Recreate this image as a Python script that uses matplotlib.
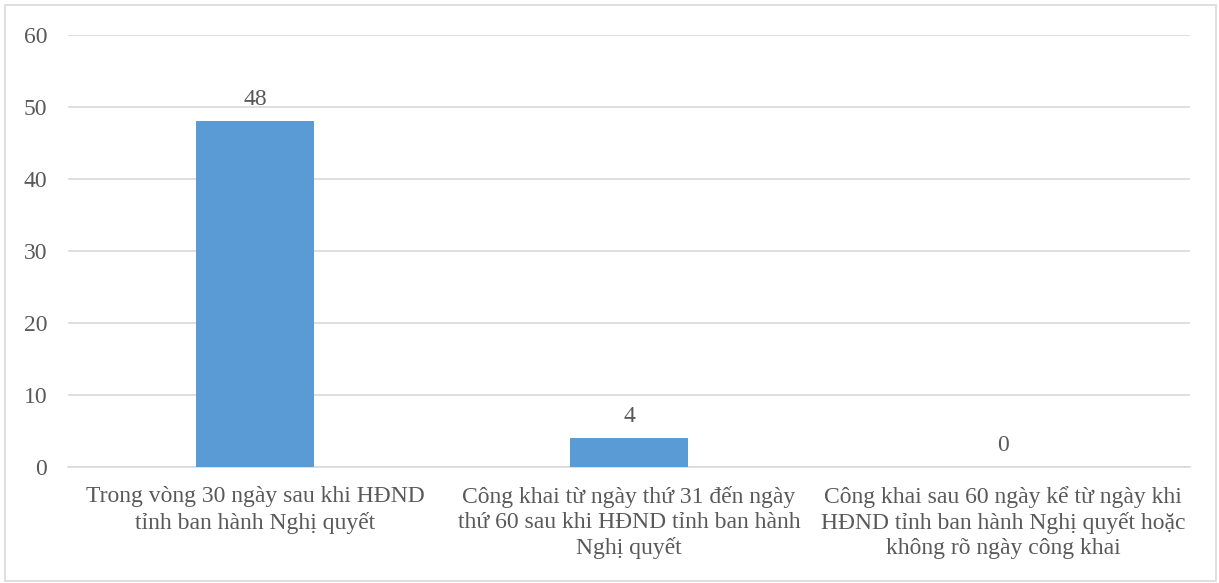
import matplotlib.pyplot as plt
from matplotlib.patches import Rectangle

# Chart data
categories = [
    'Trong vòng 30 ngày sau khi HĐND\ntỉnh ban hành Nghị quyết',
    'Công khai từ ngày thứ 31 đến ngày\nthứ 60 sau khi HĐND tỉnh ban hành\nNghị quyết',
    'Công khai sau 60 ngày kể từ ngày khi\nHĐND tỉnh ban hành Nghị quyết hoặc\nkhông rõ ngày công khai',
]
values = [48, 4, 0]
y_ticks = [0, 10, 20, 30, 40, 50, 60]

text_color = '#595959'
bar_color = '#5B9BD5'
grid_color = '#D9D9D9'

plt.rcParams['font.family'] = ['Liberation Serif', 'DejaVu Serif']

fig = plt.figure(figsize=(12.19, 5.83), dpi=100)
ax = fig.add_axes([68 / 1219, 1 - 467 / 583, (1190 - 68) / 1219, (467 - 35) / 583])

x = list(range(len(categories)))
bars = ax.bar(x, values, width=0.313, color=bar_color, zorder=3)

for bar, v in zip(bars, values):
    ax.annotate(str(v), (bar.get_x() + bar.get_width() / 2, v), xytext=(0, 8),
                textcoords='offset points', ha='center', va='bottom',
                fontsize=17, color=text_color)

ax.set_xlim(-0.5, len(categories) - 0.5)
ax.set_ylim(0, 60)
ax.set_yticks(y_ticks)
ax.set_xticks(x)
ax.set_xticklabels(categories, fontsize=17, color=text_color, linespacing=1.24)
ax.tick_params(axis='y', labelsize=17, labelcolor=text_color, length=0, pad=15)
ax.tick_params(axis='x', length=0, pad=14)
ax.yaxis.grid(True, color=grid_color, linewidth=1.2, zorder=0)
for side in ['top', 'right', 'left']:
    ax.spines[side].set_visible(False)
ax.spines['bottom'].set_color(grid_color)
ax.spines['bottom'].set_linewidth(1.2)

# Thin frame around the whole chart
fig.patches.append(Rectangle((5 / 1219, 2 / 583), 1211 / 1219, 576 / 583,
                             transform=fig.transFigure, fill=False,
                             edgecolor='#D9D9D9', linewidth=1.2))

fig.savefig('out.png', dpi=100)
